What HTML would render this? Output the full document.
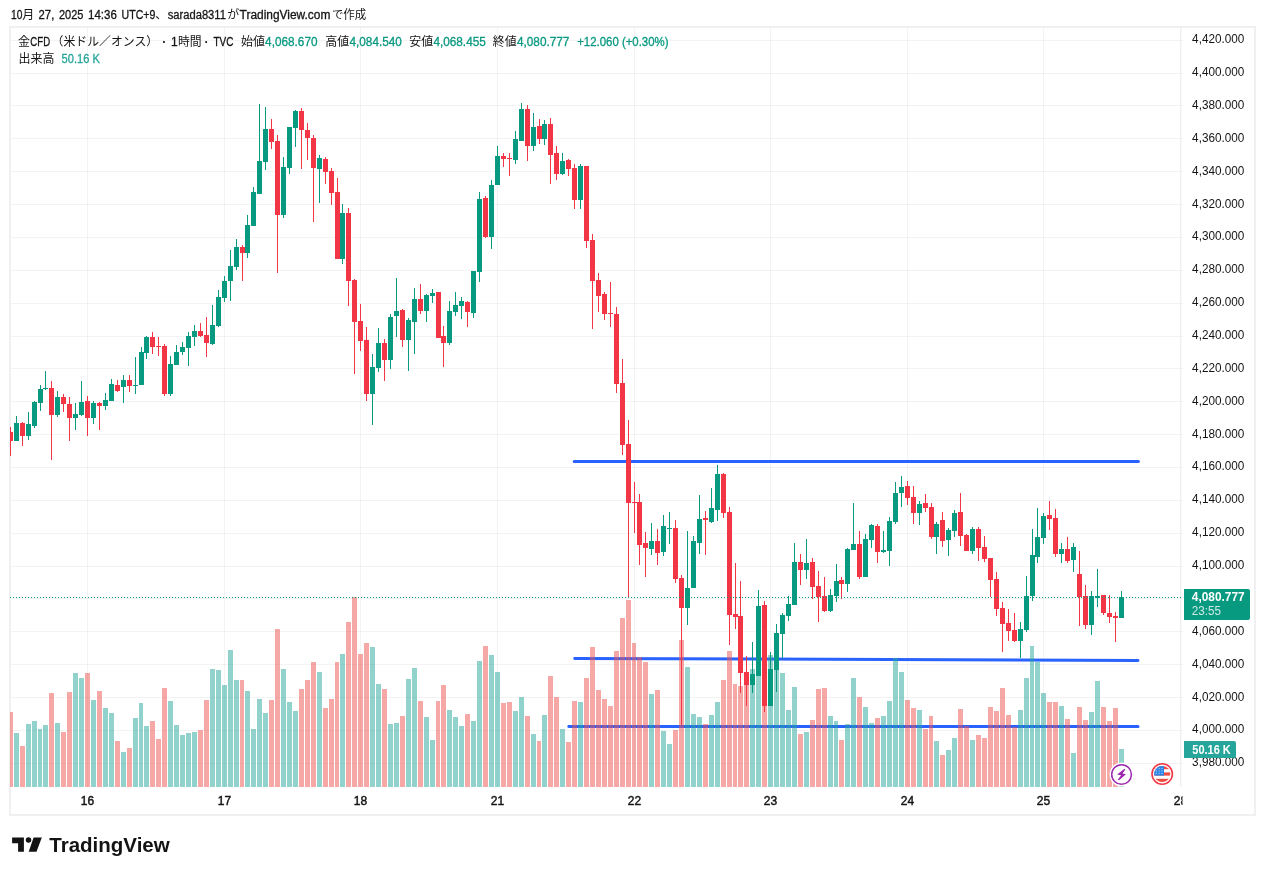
<!DOCTYPE html>
<html lang="ja"><head><meta charset="utf-8"><title>TradingView chart snapshot</title>
<style>html,body{margin:0;padding:0;background:#fff}body{width:1265px;height:875px;overflow:hidden;position:relative;font-family:"Liberation Sans","Noto Sans CJK JP",sans-serif}svg{position:absolute;left:0;top:0;display:block}text{font-family:"Liberation Sans","Noto Sans CJK JP",sans-serif;font-size:12px;fill:#151515}.w{stroke:#151515;stroke-width:.3px}.wt{stroke:#089981;stroke-width:.3px}.wv{stroke:#26a69a;stroke-width:.3px}.b{font-weight:bold}</style></head><body>
<svg width="1265" height="875" viewBox="0 0 1265 875">
<rect width="1265" height="875" fill="#fff"/>
<g id="frame" shape-rendering="crispEdges" fill="#f0f0f0">
<rect x="9" y="26" width="1247" height="2"/>
<rect x="9" y="814" width="1247" height="1.5"/>
<rect x="9" y="26" width="2" height="789"/>
<rect x="1254" y="26" width="2" height="789"/>
</g>
<g id="grid" shape-rendering="crispEdges" fill="#202020" fill-opacity=".055">
<rect x="11" y="40" width="1172" height="1"/>
<rect x="11" y="73" width="1172" height="1"/>
<rect x="11" y="105" width="1172" height="1"/>
<rect x="11" y="138" width="1172" height="1"/>
<rect x="11" y="171" width="1172" height="1"/>
<rect x="11" y="204" width="1172" height="1"/>
<rect x="11" y="237" width="1172" height="1"/>
<rect x="11" y="270" width="1172" height="1"/>
<rect x="11" y="303" width="1172" height="1"/>
<rect x="11" y="336" width="1172" height="1"/>
<rect x="11" y="368" width="1172" height="1"/>
<rect x="11" y="401" width="1172" height="1"/>
<rect x="11" y="434" width="1172" height="1"/>
<rect x="11" y="467" width="1172" height="1"/>
<rect x="11" y="500" width="1172" height="1"/>
<rect x="11" y="533" width="1172" height="1"/>
<rect x="11" y="566" width="1172" height="1"/>
<rect x="11" y="598" width="1172" height="1"/>
<rect x="11" y="631" width="1172" height="1"/>
<rect x="11" y="664" width="1172" height="1"/>
<rect x="11" y="697" width="1172" height="1"/>
<rect x="11" y="730" width="1172" height="1"/>
<rect x="11" y="763" width="1172" height="1"/>
<rect x="87" y="28" width="1" height="759"/>
<rect x="224" y="28" width="1" height="759"/>
<rect x="360" y="28" width="1" height="759"/>
<rect x="497" y="28" width="1" height="759"/>
<rect x="634" y="28" width="1" height="759"/>
<rect x="770" y="28" width="1" height="759"/>
<rect x="907" y="28" width="1" height="759"/>
<rect x="1043" y="28" width="1" height="759"/>
<rect x="1180.3" y="28" width="1" height="759" fill="#e9e9e9" fill-opacity="1" shape-rendering="auto"/>
</g>
<g id="lines" stroke="#2962ff" stroke-width="3" stroke-linecap="round" fill="none">
<line x1="574.2" y1="461.4" x2="1138.4" y2="461.4"/>
<line x1="574.7" y1="658.4" x2="1138.0" y2="660.5"/>
<line x1="568.8" y1="726.5" x2="1138.0" y2="726.6"/>
</g>
<g id="volume" shape-rendering="crispEdges" opacity=".5">
<rect x="10" y="712" width="3" height="75" fill="#ef5350"/>
<rect x="14" y="733" width="5" height="54" fill="#26a69a"/>
<rect x="20" y="746" width="5" height="41" fill="#ef5350"/>
<rect x="26" y="724" width="5" height="63" fill="#26a69a"/>
<rect x="32" y="721" width="5" height="66" fill="#26a69a"/>
<rect x="38" y="729" width="4" height="58" fill="#26a69a"/>
<rect x="43" y="725" width="5" height="62" fill="#26a69a"/>
<rect x="49" y="693" width="5" height="94" fill="#ef5350"/>
<rect x="55" y="723" width="5" height="64" fill="#26a69a"/>
<rect x="61" y="732" width="5" height="55" fill="#ef5350"/>
<rect x="67" y="692" width="5" height="95" fill="#ef5350"/>
<rect x="73" y="673" width="5" height="114" fill="#26a69a"/>
<rect x="79" y="678" width="5" height="109" fill="#26a69a"/>
<rect x="85" y="673" width="5" height="114" fill="#ef5350"/>
<rect x="91" y="700" width="5" height="87" fill="#26a69a"/>
<rect x="97" y="691" width="5" height="96" fill="#ef5350"/>
<rect x="103" y="708" width="5" height="79" fill="#26a69a"/>
<rect x="109" y="713" width="5" height="74" fill="#26a69a"/>
<rect x="115" y="741" width="5" height="46" fill="#ef5350"/>
<rect x="121" y="752" width="5" height="35" fill="#26a69a"/>
<rect x="127" y="748" width="5" height="39" fill="#ef5350"/>
<rect x="133" y="718" width="5" height="69" fill="#26a69a"/>
<rect x="139" y="703" width="4" height="84" fill="#26a69a"/>
<rect x="144" y="726" width="5" height="61" fill="#26a69a"/>
<rect x="150" y="721" width="5" height="66" fill="#ef5350"/>
<rect x="156" y="739" width="5" height="48" fill="#ef5350"/>
<rect x="162" y="688" width="5" height="99" fill="#ef5350"/>
<rect x="168" y="701" width="5" height="86" fill="#26a69a"/>
<rect x="174" y="725" width="5" height="62" fill="#26a69a"/>
<rect x="180" y="735" width="5" height="52" fill="#26a69a"/>
<rect x="186" y="733" width="5" height="54" fill="#26a69a"/>
<rect x="192" y="732" width="5" height="55" fill="#26a69a"/>
<rect x="198" y="730" width="5" height="57" fill="#ef5350"/>
<rect x="204" y="700" width="5" height="87" fill="#ef5350"/>
<rect x="210" y="669" width="5" height="118" fill="#26a69a"/>
<rect x="216" y="670" width="5" height="117" fill="#26a69a"/>
<rect x="222" y="685" width="5" height="102" fill="#26a69a"/>
<rect x="228" y="650" width="5" height="137" fill="#26a69a"/>
<rect x="234" y="680" width="5" height="107" fill="#26a69a"/>
<rect x="240" y="680" width="4" height="107" fill="#ef5350"/>
<rect x="245" y="691" width="5" height="96" fill="#26a69a"/>
<rect x="251" y="729" width="5" height="58" fill="#26a69a"/>
<rect x="257" y="699" width="5" height="88" fill="#26a69a"/>
<rect x="263" y="713" width="5" height="74" fill="#26a69a"/>
<rect x="269" y="700" width="5" height="87" fill="#ef5350"/>
<rect x="275" y="629" width="5" height="158" fill="#ef5350"/>
<rect x="281" y="669" width="5" height="118" fill="#26a69a"/>
<rect x="287" y="702" width="5" height="85" fill="#26a69a"/>
<rect x="293" y="711" width="5" height="76" fill="#26a69a"/>
<rect x="299" y="689" width="5" height="98" fill="#ef5350"/>
<rect x="305" y="680" width="5" height="107" fill="#ef5350"/>
<rect x="311" y="662" width="5" height="125" fill="#ef5350"/>
<rect x="317" y="672" width="5" height="115" fill="#26a69a"/>
<rect x="323" y="708" width="5" height="79" fill="#ef5350"/>
<rect x="329" y="699" width="5" height="88" fill="#ef5350"/>
<rect x="335" y="662" width="4" height="125" fill="#ef5350"/>
<rect x="340" y="654" width="5" height="133" fill="#26a69a"/>
<rect x="346" y="622" width="5" height="165" fill="#ef5350"/>
<rect x="352" y="597" width="5" height="190" fill="#ef5350"/>
<rect x="358" y="654" width="5" height="133" fill="#ef5350"/>
<rect x="364" y="643" width="5" height="144" fill="#ef5350"/>
<rect x="370" y="647" width="5" height="140" fill="#26a69a"/>
<rect x="376" y="684" width="5" height="103" fill="#26a69a"/>
<rect x="382" y="689" width="5" height="98" fill="#ef5350"/>
<rect x="388" y="724" width="5" height="63" fill="#26a69a"/>
<rect x="394" y="723" width="5" height="64" fill="#26a69a"/>
<rect x="400" y="716" width="5" height="71" fill="#ef5350"/>
<rect x="406" y="679" width="5" height="108" fill="#26a69a"/>
<rect x="412" y="668" width="5" height="119" fill="#26a69a"/>
<rect x="418" y="701" width="5" height="86" fill="#ef5350"/>
<rect x="424" y="717" width="5" height="70" fill="#26a69a"/>
<rect x="430" y="740" width="5" height="47" fill="#26a69a"/>
<rect x="436" y="701" width="4" height="86" fill="#ef5350"/>
<rect x="441" y="685" width="5" height="102" fill="#ef5350"/>
<rect x="447" y="710" width="5" height="77" fill="#26a69a"/>
<rect x="453" y="717" width="5" height="70" fill="#26a69a"/>
<rect x="459" y="726" width="5" height="61" fill="#26a69a"/>
<rect x="465" y="714" width="5" height="73" fill="#ef5350"/>
<rect x="471" y="721" width="5" height="66" fill="#26a69a"/>
<rect x="477" y="661" width="5" height="126" fill="#26a69a"/>
<rect x="483" y="646" width="5" height="141" fill="#ef5350"/>
<rect x="489" y="655" width="5" height="132" fill="#26a69a"/>
<rect x="495" y="672" width="5" height="115" fill="#26a69a"/>
<rect x="501" y="703" width="5" height="84" fill="#ef5350"/>
<rect x="507" y="702" width="5" height="85" fill="#ef5350"/>
<rect x="513" y="711" width="5" height="76" fill="#26a69a"/>
<rect x="519" y="697" width="5" height="90" fill="#26a69a"/>
<rect x="525" y="716" width="5" height="71" fill="#ef5350"/>
<rect x="531" y="734" width="5" height="53" fill="#26a69a"/>
<rect x="537" y="741" width="4" height="46" fill="#ef5350"/>
<rect x="542" y="715" width="5" height="72" fill="#26a69a"/>
<rect x="548" y="676" width="5" height="111" fill="#ef5350"/>
<rect x="554" y="697" width="5" height="90" fill="#ef5350"/>
<rect x="560" y="729" width="5" height="58" fill="#26a69a"/>
<rect x="566" y="742" width="5" height="45" fill="#ef5350"/>
<rect x="572" y="701" width="5" height="86" fill="#ef5350"/>
<rect x="578" y="702" width="5" height="85" fill="#26a69a"/>
<rect x="584" y="678" width="5" height="109" fill="#ef5350"/>
<rect x="590" y="647" width="5" height="140" fill="#ef5350"/>
<rect x="596" y="690" width="5" height="97" fill="#ef5350"/>
<rect x="602" y="699" width="5" height="88" fill="#ef5350"/>
<rect x="608" y="706" width="5" height="81" fill="#ef5350"/>
<rect x="614" y="651" width="5" height="136" fill="#ef5350"/>
<rect x="620" y="618" width="5" height="169" fill="#ef5350"/>
<rect x="626" y="600" width="5" height="187" fill="#ef5350"/>
<rect x="632" y="643" width="4" height="144" fill="#ef5350"/>
<rect x="637" y="657" width="5" height="130" fill="#ef5350"/>
<rect x="643" y="662" width="5" height="125" fill="#ef5350"/>
<rect x="649" y="694" width="5" height="93" fill="#26a69a"/>
<rect x="655" y="690" width="5" height="97" fill="#ef5350"/>
<rect x="661" y="731" width="5" height="56" fill="#26a69a"/>
<rect x="667" y="744" width="5" height="43" fill="#26a69a"/>
<rect x="673" y="730" width="5" height="57" fill="#ef5350"/>
<rect x="679" y="640" width="5" height="147" fill="#ef5350"/>
<rect x="685" y="667" width="5" height="120" fill="#26a69a"/>
<rect x="691" y="714" width="5" height="73" fill="#26a69a"/>
<rect x="697" y="717" width="5" height="70" fill="#26a69a"/>
<rect x="703" y="724" width="5" height="63" fill="#ef5350"/>
<rect x="709" y="715" width="5" height="72" fill="#26a69a"/>
<rect x="715" y="702" width="5" height="85" fill="#26a69a"/>
<rect x="721" y="680" width="5" height="107" fill="#ef5350"/>
<rect x="727" y="651" width="5" height="136" fill="#ef5350"/>
<rect x="733" y="684" width="4" height="103" fill="#ef5350"/>
<rect x="738" y="686" width="5" height="101" fill="#ef5350"/>
<rect x="744" y="685" width="5" height="102" fill="#ef5350"/>
<rect x="750" y="669" width="5" height="118" fill="#26a69a"/>
<rect x="756" y="668" width="5" height="119" fill="#26a69a"/>
<rect x="762" y="662" width="5" height="125" fill="#ef5350"/>
<rect x="768" y="655" width="5" height="132" fill="#26a69a"/>
<rect x="774" y="664" width="5" height="123" fill="#26a69a"/>
<rect x="780" y="673" width="5" height="114" fill="#26a69a"/>
<rect x="786" y="710" width="5" height="77" fill="#26a69a"/>
<rect x="792" y="687" width="5" height="100" fill="#26a69a"/>
<rect x="798" y="734" width="5" height="53" fill="#ef5350"/>
<rect x="804" y="732" width="5" height="55" fill="#26a69a"/>
<rect x="810" y="720" width="5" height="67" fill="#ef5350"/>
<rect x="816" y="689" width="5" height="98" fill="#ef5350"/>
<rect x="822" y="688" width="5" height="99" fill="#ef5350"/>
<rect x="828" y="716" width="5" height="71" fill="#26a69a"/>
<rect x="834" y="721" width="4" height="66" fill="#26a69a"/>
<rect x="839" y="740" width="5" height="47" fill="#ef5350"/>
<rect x="845" y="724" width="5" height="63" fill="#26a69a"/>
<rect x="851" y="678" width="5" height="109" fill="#26a69a"/>
<rect x="857" y="697" width="5" height="90" fill="#ef5350"/>
<rect x="863" y="707" width="5" height="80" fill="#26a69a"/>
<rect x="869" y="723" width="5" height="64" fill="#26a69a"/>
<rect x="875" y="718" width="5" height="69" fill="#ef5350"/>
<rect x="881" y="716" width="5" height="71" fill="#26a69a"/>
<rect x="887" y="701" width="5" height="86" fill="#26a69a"/>
<rect x="893" y="658" width="5" height="129" fill="#26a69a"/>
<rect x="899" y="672" width="5" height="115" fill="#26a69a"/>
<rect x="905" y="700" width="5" height="87" fill="#ef5350"/>
<rect x="911" y="708" width="5" height="79" fill="#ef5350"/>
<rect x="917" y="710" width="5" height="77" fill="#26a69a"/>
<rect x="923" y="729" width="5" height="58" fill="#ef5350"/>
<rect x="929" y="716" width="4" height="71" fill="#ef5350"/>
<rect x="934" y="741" width="5" height="46" fill="#26a69a"/>
<rect x="940" y="755" width="5" height="32" fill="#ef5350"/>
<rect x="946" y="750" width="5" height="37" fill="#26a69a"/>
<rect x="952" y="738" width="5" height="49" fill="#26a69a"/>
<rect x="958" y="709" width="5" height="78" fill="#ef5350"/>
<rect x="964" y="726" width="5" height="61" fill="#ef5350"/>
<rect x="970" y="740" width="5" height="47" fill="#26a69a"/>
<rect x="976" y="735" width="5" height="52" fill="#ef5350"/>
<rect x="982" y="738" width="5" height="49" fill="#ef5350"/>
<rect x="988" y="707" width="5" height="80" fill="#ef5350"/>
<rect x="994" y="711" width="5" height="76" fill="#ef5350"/>
<rect x="1000" y="688" width="5" height="99" fill="#ef5350"/>
<rect x="1006" y="715" width="5" height="72" fill="#ef5350"/>
<rect x="1012" y="727" width="5" height="60" fill="#ef5350"/>
<rect x="1018" y="710" width="5" height="77" fill="#26a69a"/>
<rect x="1024" y="678" width="5" height="109" fill="#26a69a"/>
<rect x="1030" y="646" width="4" height="141" fill="#26a69a"/>
<rect x="1035" y="662" width="5" height="125" fill="#26a69a"/>
<rect x="1041" y="693" width="5" height="94" fill="#26a69a"/>
<rect x="1047" y="702" width="5" height="85" fill="#ef5350"/>
<rect x="1053" y="702" width="5" height="85" fill="#ef5350"/>
<rect x="1059" y="706" width="5" height="81" fill="#26a69a"/>
<rect x="1065" y="719" width="5" height="68" fill="#ef5350"/>
<rect x="1071" y="753" width="5" height="34" fill="#26a69a"/>
<rect x="1077" y="707" width="5" height="80" fill="#ef5350"/>
<rect x="1083" y="720" width="5" height="67" fill="#ef5350"/>
<rect x="1089" y="712" width="5" height="75" fill="#26a69a"/>
<rect x="1095" y="681" width="5" height="106" fill="#26a69a"/>
<rect x="1101" y="707" width="5" height="80" fill="#ef5350"/>
<rect x="1107" y="721" width="5" height="66" fill="#ef5350"/>
<rect x="1113" y="708" width="5" height="79" fill="#ef5350"/>
<rect x="1119" y="749" width="5" height="38" fill="#26a69a"/>
</g>
<g id="candles" shape-rendering="crispEdges">
<rect x="10" y="427" width="1" height="29" fill="#f23645"/>
<rect x="10" y="432" width="3" height="9" fill="#f23645"/>
<rect x="16" y="416" width="1" height="25" fill="#089981"/>
<rect x="14" y="423" width="5" height="18" fill="#089981"/>
<rect x="22" y="422" width="1" height="24" fill="#f23645"/>
<rect x="20" y="423" width="5" height="13" fill="#f23645"/>
<rect x="28" y="412" width="1" height="28" fill="#089981"/>
<rect x="26" y="424" width="5" height="12" fill="#089981"/>
<rect x="34" y="401" width="1" height="27" fill="#089981"/>
<rect x="32" y="402" width="5" height="24" fill="#089981"/>
<rect x="40" y="385" width="1" height="26" fill="#089981"/>
<rect x="38" y="389" width="5" height="14" fill="#089981"/>
<rect x="45" y="371" width="1" height="19" fill="#089981"/>
<rect x="43" y="388" width="5" height="1" fill="#089981"/>
<rect x="51" y="381" width="1" height="79" fill="#f23645"/>
<rect x="49" y="388" width="5" height="27" fill="#f23645"/>
<rect x="57" y="391" width="1" height="26" fill="#089981"/>
<rect x="55" y="397" width="5" height="18" fill="#089981"/>
<rect x="63" y="394" width="1" height="18" fill="#f23645"/>
<rect x="61" y="397" width="5" height="7" fill="#f23645"/>
<rect x="69" y="397" width="1" height="44" fill="#f23645"/>
<rect x="67" y="404" width="5" height="14" fill="#f23645"/>
<rect x="75" y="403" width="1" height="27" fill="#089981"/>
<rect x="73" y="414" width="5" height="4" fill="#089981"/>
<rect x="81" y="381" width="1" height="35" fill="#089981"/>
<rect x="79" y="402" width="5" height="13" fill="#089981"/>
<rect x="87" y="396" width="1" height="40" fill="#f23645"/>
<rect x="85" y="401" width="5" height="17" fill="#f23645"/>
<rect x="93" y="401" width="1" height="23" fill="#089981"/>
<rect x="91" y="403" width="5" height="15" fill="#089981"/>
<rect x="99" y="402" width="1" height="28" fill="#f23645"/>
<rect x="97" y="403" width="5" height="3" fill="#f23645"/>
<rect x="105" y="393" width="1" height="17" fill="#089981"/>
<rect x="103" y="400" width="5" height="6" fill="#089981"/>
<rect x="111" y="379" width="1" height="22" fill="#089981"/>
<rect x="109" y="384" width="5" height="17" fill="#089981"/>
<rect x="117" y="380" width="1" height="12" fill="#f23645"/>
<rect x="115" y="385" width="5" height="6" fill="#f23645"/>
<rect x="123" y="375" width="1" height="28" fill="#089981"/>
<rect x="121" y="380" width="5" height="7" fill="#089981"/>
<rect x="129" y="375" width="1" height="17" fill="#f23645"/>
<rect x="127" y="380" width="5" height="6" fill="#f23645"/>
<rect x="135" y="357" width="1" height="37" fill="#089981"/>
<rect x="133" y="385" width="5" height="1" fill="#089981"/>
<rect x="141" y="347" width="1" height="38" fill="#089981"/>
<rect x="139" y="352" width="5" height="33" fill="#089981"/>
<rect x="146" y="336" width="1" height="23" fill="#089981"/>
<rect x="144" y="337" width="5" height="16" fill="#089981"/>
<rect x="152" y="332" width="1" height="22" fill="#f23645"/>
<rect x="150" y="337" width="5" height="10" fill="#f23645"/>
<rect x="158" y="337" width="1" height="19" fill="#f23645"/>
<rect x="156" y="346" width="5" height="1" fill="#f23645"/>
<rect x="164" y="344" width="1" height="52" fill="#f23645"/>
<rect x="162" y="346" width="5" height="48" fill="#f23645"/>
<rect x="170" y="356" width="1" height="40" fill="#089981"/>
<rect x="168" y="364" width="5" height="30" fill="#089981"/>
<rect x="176" y="345" width="1" height="20" fill="#089981"/>
<rect x="174" y="352" width="5" height="13" fill="#089981"/>
<rect x="182" y="342" width="1" height="13" fill="#089981"/>
<rect x="180" y="347" width="5" height="5" fill="#089981"/>
<rect x="188" y="332" width="1" height="34" fill="#089981"/>
<rect x="186" y="336" width="5" height="12" fill="#089981"/>
<rect x="194" y="325" width="1" height="21" fill="#089981"/>
<rect x="192" y="331" width="5" height="6" fill="#089981"/>
<rect x="200" y="323" width="1" height="14" fill="#f23645"/>
<rect x="198" y="331" width="5" height="5" fill="#f23645"/>
<rect x="206" y="317" width="1" height="40" fill="#f23645"/>
<rect x="204" y="335" width="5" height="8" fill="#f23645"/>
<rect x="212" y="305" width="1" height="40" fill="#089981"/>
<rect x="210" y="325" width="5" height="19" fill="#089981"/>
<rect x="218" y="290" width="1" height="37" fill="#089981"/>
<rect x="216" y="297" width="5" height="29" fill="#089981"/>
<rect x="224" y="276" width="1" height="26" fill="#089981"/>
<rect x="222" y="281" width="5" height="17" fill="#089981"/>
<rect x="230" y="250" width="1" height="51" fill="#089981"/>
<rect x="228" y="266" width="5" height="15" fill="#089981"/>
<rect x="236" y="239" width="1" height="31" fill="#089981"/>
<rect x="234" y="247" width="5" height="20" fill="#089981"/>
<rect x="242" y="245" width="1" height="36" fill="#f23645"/>
<rect x="240" y="247" width="5" height="6" fill="#f23645"/>
<rect x="247" y="215" width="1" height="43" fill="#089981"/>
<rect x="245" y="225" width="5" height="28" fill="#089981"/>
<rect x="253" y="187" width="1" height="39" fill="#089981"/>
<rect x="251" y="192" width="5" height="34" fill="#089981"/>
<rect x="259" y="104" width="1" height="90" fill="#089981"/>
<rect x="257" y="161" width="5" height="33" fill="#089981"/>
<rect x="265" y="107" width="1" height="63" fill="#089981"/>
<rect x="263" y="129" width="5" height="33" fill="#089981"/>
<rect x="271" y="119" width="1" height="30" fill="#f23645"/>
<rect x="269" y="129" width="5" height="13" fill="#f23645"/>
<rect x="277" y="135" width="1" height="138" fill="#f23645"/>
<rect x="275" y="141" width="5" height="74" fill="#f23645"/>
<rect x="283" y="157" width="1" height="61" fill="#089981"/>
<rect x="281" y="167" width="5" height="48" fill="#089981"/>
<rect x="289" y="127" width="1" height="47" fill="#089981"/>
<rect x="287" y="127" width="5" height="41" fill="#089981"/>
<rect x="295" y="110" width="1" height="37" fill="#089981"/>
<rect x="293" y="111" width="5" height="17" fill="#089981"/>
<rect x="301" y="108" width="1" height="61" fill="#f23645"/>
<rect x="299" y="111" width="5" height="19" fill="#f23645"/>
<rect x="307" y="123" width="1" height="37" fill="#f23645"/>
<rect x="305" y="130" width="5" height="8" fill="#f23645"/>
<rect x="313" y="135" width="1" height="87" fill="#f23645"/>
<rect x="311" y="138" width="5" height="30" fill="#f23645"/>
<rect x="319" y="155" width="1" height="48" fill="#089981"/>
<rect x="317" y="158" width="5" height="11" fill="#089981"/>
<rect x="325" y="157" width="1" height="27" fill="#f23645"/>
<rect x="323" y="159" width="5" height="13" fill="#f23645"/>
<rect x="331" y="168" width="1" height="37" fill="#f23645"/>
<rect x="329" y="171" width="5" height="22" fill="#f23645"/>
<rect x="337" y="178" width="1" height="81" fill="#f23645"/>
<rect x="335" y="192" width="5" height="67" fill="#f23645"/>
<rect x="342" y="204" width="1" height="60" fill="#089981"/>
<rect x="340" y="213" width="5" height="46" fill="#089981"/>
<rect x="348" y="208" width="1" height="98" fill="#f23645"/>
<rect x="346" y="213" width="5" height="68" fill="#f23645"/>
<rect x="354" y="279" width="1" height="95" fill="#f23645"/>
<rect x="352" y="280" width="5" height="42" fill="#f23645"/>
<rect x="360" y="304" width="1" height="47" fill="#f23645"/>
<rect x="358" y="321" width="5" height="20" fill="#f23645"/>
<rect x="366" y="327" width="1" height="74" fill="#f23645"/>
<rect x="364" y="340" width="5" height="54" fill="#f23645"/>
<rect x="372" y="354" width="1" height="71" fill="#089981"/>
<rect x="370" y="367" width="5" height="27" fill="#089981"/>
<rect x="378" y="328" width="1" height="44" fill="#089981"/>
<rect x="376" y="343" width="5" height="25" fill="#089981"/>
<rect x="384" y="339" width="1" height="42" fill="#f23645"/>
<rect x="382" y="343" width="5" height="17" fill="#f23645"/>
<rect x="390" y="314" width="1" height="55" fill="#089981"/>
<rect x="388" y="317" width="5" height="43" fill="#089981"/>
<rect x="396" y="278" width="1" height="59" fill="#089981"/>
<rect x="394" y="311" width="5" height="5" fill="#089981"/>
<rect x="402" y="309" width="1" height="38" fill="#f23645"/>
<rect x="400" y="310" width="5" height="30" fill="#f23645"/>
<rect x="408" y="318" width="1" height="53" fill="#089981"/>
<rect x="406" y="320" width="5" height="20" fill="#089981"/>
<rect x="414" y="288" width="1" height="66" fill="#089981"/>
<rect x="412" y="299" width="5" height="23" fill="#089981"/>
<rect x="420" y="284" width="1" height="30" fill="#f23645"/>
<rect x="418" y="299" width="5" height="12" fill="#f23645"/>
<rect x="426" y="294" width="1" height="28" fill="#089981"/>
<rect x="424" y="295" width="5" height="16" fill="#089981"/>
<rect x="432" y="289" width="1" height="14" fill="#089981"/>
<rect x="430" y="293" width="5" height="3" fill="#089981"/>
<rect x="438" y="292" width="1" height="46" fill="#f23645"/>
<rect x="436" y="292" width="5" height="46" fill="#f23645"/>
<rect x="443" y="326" width="1" height="41" fill="#f23645"/>
<rect x="441" y="336" width="5" height="7" fill="#f23645"/>
<rect x="449" y="301" width="1" height="44" fill="#089981"/>
<rect x="447" y="311" width="5" height="32" fill="#089981"/>
<rect x="455" y="292" width="1" height="24" fill="#089981"/>
<rect x="453" y="305" width="5" height="7" fill="#089981"/>
<rect x="461" y="297" width="1" height="22" fill="#089981"/>
<rect x="459" y="301" width="5" height="5" fill="#089981"/>
<rect x="467" y="301" width="1" height="26" fill="#f23645"/>
<rect x="465" y="302" width="5" height="10" fill="#f23645"/>
<rect x="473" y="271" width="1" height="47" fill="#089981"/>
<rect x="471" y="271" width="5" height="42" fill="#089981"/>
<rect x="479" y="192" width="1" height="90" fill="#089981"/>
<rect x="477" y="199" width="5" height="73" fill="#089981"/>
<rect x="485" y="196" width="1" height="42" fill="#f23645"/>
<rect x="483" y="198" width="5" height="39" fill="#f23645"/>
<rect x="491" y="180" width="1" height="69" fill="#089981"/>
<rect x="489" y="185" width="5" height="52" fill="#089981"/>
<rect x="497" y="146" width="1" height="39" fill="#089981"/>
<rect x="495" y="156" width="5" height="29" fill="#089981"/>
<rect x="503" y="153" width="1" height="14" fill="#f23645"/>
<rect x="501" y="156" width="5" height="3" fill="#f23645"/>
<rect x="509" y="153" width="1" height="23" fill="#f23645"/>
<rect x="507" y="158" width="5" height="1" fill="#f23645"/>
<rect x="515" y="131" width="1" height="33" fill="#089981"/>
<rect x="513" y="139" width="5" height="21" fill="#089981"/>
<rect x="521" y="103" width="1" height="38" fill="#089981"/>
<rect x="519" y="109" width="5" height="32" fill="#089981"/>
<rect x="527" y="105" width="1" height="56" fill="#f23645"/>
<rect x="525" y="109" width="5" height="37" fill="#f23645"/>
<rect x="533" y="113" width="1" height="38" fill="#089981"/>
<rect x="531" y="127" width="5" height="19" fill="#089981"/>
<rect x="539" y="119" width="1" height="25" fill="#f23645"/>
<rect x="537" y="126" width="5" height="13" fill="#f23645"/>
<rect x="544" y="120" width="1" height="25" fill="#089981"/>
<rect x="542" y="124" width="5" height="15" fill="#089981"/>
<rect x="550" y="118" width="1" height="66" fill="#f23645"/>
<rect x="548" y="124" width="5" height="31" fill="#f23645"/>
<rect x="556" y="146" width="1" height="34" fill="#f23645"/>
<rect x="554" y="153" width="5" height="21" fill="#f23645"/>
<rect x="562" y="153" width="1" height="22" fill="#089981"/>
<rect x="560" y="161" width="5" height="13" fill="#089981"/>
<rect x="568" y="159" width="1" height="17" fill="#f23645"/>
<rect x="566" y="160" width="5" height="9" fill="#f23645"/>
<rect x="574" y="164" width="1" height="45" fill="#f23645"/>
<rect x="572" y="168" width="5" height="32" fill="#f23645"/>
<rect x="580" y="164" width="1" height="45" fill="#089981"/>
<rect x="578" y="166" width="5" height="34" fill="#089981"/>
<rect x="586" y="166" width="1" height="82" fill="#f23645"/>
<rect x="584" y="166" width="5" height="75" fill="#f23645"/>
<rect x="592" y="234" width="1" height="95" fill="#f23645"/>
<rect x="590" y="240" width="5" height="41" fill="#f23645"/>
<rect x="598" y="273" width="1" height="39" fill="#f23645"/>
<rect x="596" y="280" width="5" height="16" fill="#f23645"/>
<rect x="604" y="292" width="1" height="28" fill="#f23645"/>
<rect x="602" y="294" width="5" height="20" fill="#f23645"/>
<rect x="610" y="282" width="1" height="45" fill="#f23645"/>
<rect x="608" y="313" width="5" height="1" fill="#f23645"/>
<rect x="616" y="307" width="1" height="86" fill="#f23645"/>
<rect x="614" y="314" width="5" height="70" fill="#f23645"/>
<rect x="622" y="359" width="1" height="96" fill="#f23645"/>
<rect x="620" y="383" width="5" height="62" fill="#f23645"/>
<rect x="628" y="420" width="1" height="178" fill="#f23645"/>
<rect x="626" y="444" width="5" height="59" fill="#f23645"/>
<rect x="634" y="482" width="1" height="51" fill="#f23645"/>
<rect x="632" y="502" width="5" height="1" fill="#f23645"/>
<rect x="639" y="494" width="1" height="71" fill="#f23645"/>
<rect x="637" y="502" width="5" height="43" fill="#f23645"/>
<rect x="645" y="532" width="1" height="45" fill="#f23645"/>
<rect x="643" y="543" width="5" height="5" fill="#f23645"/>
<rect x="651" y="523" width="1" height="32" fill="#089981"/>
<rect x="649" y="541" width="5" height="8" fill="#089981"/>
<rect x="657" y="529" width="1" height="36" fill="#f23645"/>
<rect x="655" y="541" width="5" height="12" fill="#f23645"/>
<rect x="663" y="515" width="1" height="41" fill="#089981"/>
<rect x="661" y="526" width="5" height="26" fill="#089981"/>
<rect x="669" y="512" width="1" height="32" fill="#089981"/>
<rect x="667" y="528" width="5" height="1" fill="#089981"/>
<rect x="675" y="520" width="1" height="63" fill="#f23645"/>
<rect x="673" y="528" width="5" height="51" fill="#f23645"/>
<rect x="681" y="575" width="1" height="150" fill="#f23645"/>
<rect x="679" y="578" width="5" height="30" fill="#f23645"/>
<rect x="687" y="531" width="1" height="94" fill="#089981"/>
<rect x="685" y="588" width="5" height="20" fill="#089981"/>
<rect x="693" y="536" width="1" height="52" fill="#089981"/>
<rect x="691" y="541" width="5" height="47" fill="#089981"/>
<rect x="699" y="495" width="1" height="59" fill="#089981"/>
<rect x="697" y="519" width="5" height="24" fill="#089981"/>
<rect x="705" y="511" width="1" height="44" fill="#f23645"/>
<rect x="703" y="518" width="5" height="2" fill="#f23645"/>
<rect x="711" y="488" width="1" height="35" fill="#089981"/>
<rect x="709" y="508" width="5" height="14" fill="#089981"/>
<rect x="717" y="465" width="1" height="56" fill="#089981"/>
<rect x="715" y="474" width="5" height="36" fill="#089981"/>
<rect x="723" y="473" width="1" height="45" fill="#f23645"/>
<rect x="721" y="474" width="5" height="39" fill="#f23645"/>
<rect x="729" y="507" width="1" height="138" fill="#f23645"/>
<rect x="727" y="512" width="5" height="103" fill="#f23645"/>
<rect x="735" y="563" width="1" height="66" fill="#f23645"/>
<rect x="733" y="614" width="5" height="3" fill="#f23645"/>
<rect x="740" y="581" width="1" height="112" fill="#f23645"/>
<rect x="738" y="616" width="5" height="57" fill="#f23645"/>
<rect x="746" y="656" width="1" height="50" fill="#f23645"/>
<rect x="744" y="672" width="5" height="13" fill="#f23645"/>
<rect x="752" y="642" width="1" height="51" fill="#089981"/>
<rect x="750" y="674" width="5" height="11" fill="#089981"/>
<rect x="758" y="590" width="1" height="86" fill="#089981"/>
<rect x="756" y="606" width="5" height="70" fill="#089981"/>
<rect x="764" y="601" width="1" height="111" fill="#f23645"/>
<rect x="762" y="605" width="5" height="101" fill="#f23645"/>
<rect x="770" y="652" width="1" height="54" fill="#089981"/>
<rect x="768" y="669" width="5" height="37" fill="#089981"/>
<rect x="776" y="624" width="1" height="68" fill="#089981"/>
<rect x="774" y="633" width="5" height="37" fill="#089981"/>
<rect x="782" y="613" width="1" height="45" fill="#089981"/>
<rect x="780" y="615" width="5" height="19" fill="#089981"/>
<rect x="788" y="596" width="1" height="25" fill="#089981"/>
<rect x="786" y="604" width="5" height="12" fill="#089981"/>
<rect x="794" y="543" width="1" height="62" fill="#089981"/>
<rect x="792" y="562" width="5" height="43" fill="#089981"/>
<rect x="800" y="554" width="1" height="31" fill="#f23645"/>
<rect x="798" y="562" width="5" height="8" fill="#f23645"/>
<rect x="806" y="539" width="1" height="40" fill="#089981"/>
<rect x="804" y="563" width="5" height="7" fill="#089981"/>
<rect x="812" y="558" width="1" height="41" fill="#f23645"/>
<rect x="810" y="562" width="5" height="25" fill="#f23645"/>
<rect x="818" y="571" width="1" height="51" fill="#f23645"/>
<rect x="816" y="586" width="5" height="11" fill="#f23645"/>
<rect x="824" y="577" width="1" height="35" fill="#f23645"/>
<rect x="822" y="596" width="5" height="15" fill="#f23645"/>
<rect x="830" y="589" width="1" height="23" fill="#089981"/>
<rect x="828" y="595" width="5" height="16" fill="#089981"/>
<rect x="836" y="564" width="1" height="38" fill="#089981"/>
<rect x="834" y="581" width="5" height="15" fill="#089981"/>
<rect x="841" y="577" width="1" height="22" fill="#f23645"/>
<rect x="839" y="580" width="5" height="4" fill="#f23645"/>
<rect x="847" y="548" width="1" height="44" fill="#089981"/>
<rect x="845" y="549" width="5" height="35" fill="#089981"/>
<rect x="853" y="503" width="1" height="47" fill="#089981"/>
<rect x="851" y="544" width="5" height="6" fill="#089981"/>
<rect x="859" y="531" width="1" height="48" fill="#f23645"/>
<rect x="857" y="544" width="5" height="33" fill="#f23645"/>
<rect x="865" y="534" width="1" height="43" fill="#089981"/>
<rect x="863" y="539" width="5" height="38" fill="#089981"/>
<rect x="871" y="524" width="1" height="24" fill="#089981"/>
<rect x="869" y="525" width="5" height="15" fill="#089981"/>
<rect x="877" y="524" width="1" height="39" fill="#f23645"/>
<rect x="875" y="526" width="5" height="26" fill="#f23645"/>
<rect x="883" y="531" width="1" height="22" fill="#089981"/>
<rect x="881" y="550" width="5" height="2" fill="#089981"/>
<rect x="889" y="517" width="1" height="49" fill="#089981"/>
<rect x="887" y="521" width="5" height="30" fill="#089981"/>
<rect x="895" y="482" width="1" height="42" fill="#089981"/>
<rect x="893" y="493" width="5" height="29" fill="#089981"/>
<rect x="901" y="476" width="1" height="31" fill="#089981"/>
<rect x="899" y="487" width="5" height="6" fill="#089981"/>
<rect x="907" y="481" width="1" height="24" fill="#f23645"/>
<rect x="905" y="486" width="5" height="12" fill="#f23645"/>
<rect x="913" y="486" width="1" height="38" fill="#f23645"/>
<rect x="911" y="497" width="5" height="16" fill="#f23645"/>
<rect x="919" y="501" width="1" height="24" fill="#089981"/>
<rect x="917" y="504" width="5" height="9" fill="#089981"/>
<rect x="925" y="494" width="1" height="18" fill="#f23645"/>
<rect x="923" y="503" width="5" height="5" fill="#f23645"/>
<rect x="931" y="503" width="1" height="36" fill="#f23645"/>
<rect x="929" y="507" width="5" height="30" fill="#f23645"/>
<rect x="936" y="522" width="1" height="32" fill="#089981"/>
<rect x="934" y="524" width="5" height="13" fill="#089981"/>
<rect x="942" y="512" width="1" height="35" fill="#f23645"/>
<rect x="940" y="520" width="5" height="21" fill="#f23645"/>
<rect x="948" y="528" width="1" height="28" fill="#089981"/>
<rect x="946" y="530" width="5" height="10" fill="#089981"/>
<rect x="954" y="510" width="1" height="27" fill="#089981"/>
<rect x="952" y="513" width="5" height="18" fill="#089981"/>
<rect x="960" y="493" width="1" height="53" fill="#f23645"/>
<rect x="958" y="512" width="5" height="24" fill="#f23645"/>
<rect x="966" y="534" width="1" height="17" fill="#f23645"/>
<rect x="964" y="535" width="5" height="16" fill="#f23645"/>
<rect x="972" y="527" width="1" height="27" fill="#089981"/>
<rect x="970" y="529" width="5" height="22" fill="#089981"/>
<rect x="978" y="527" width="1" height="34" fill="#f23645"/>
<rect x="976" y="529" width="5" height="19" fill="#f23645"/>
<rect x="984" y="536" width="1" height="26" fill="#f23645"/>
<rect x="982" y="547" width="5" height="12" fill="#f23645"/>
<rect x="990" y="558" width="1" height="39" fill="#f23645"/>
<rect x="988" y="558" width="5" height="22" fill="#f23645"/>
<rect x="996" y="572" width="1" height="44" fill="#f23645"/>
<rect x="994" y="579" width="5" height="30" fill="#f23645"/>
<rect x="1002" y="602" width="1" height="50" fill="#f23645"/>
<rect x="1000" y="608" width="5" height="16" fill="#f23645"/>
<rect x="1008" y="609" width="1" height="32" fill="#f23645"/>
<rect x="1006" y="623" width="5" height="8" fill="#f23645"/>
<rect x="1014" y="613" width="1" height="29" fill="#f23645"/>
<rect x="1012" y="630" width="5" height="11" fill="#f23645"/>
<rect x="1020" y="622" width="1" height="36" fill="#089981"/>
<rect x="1018" y="629" width="5" height="12" fill="#089981"/>
<rect x="1026" y="576" width="1" height="56" fill="#089981"/>
<rect x="1024" y="596" width="5" height="34" fill="#089981"/>
<rect x="1032" y="529" width="1" height="72" fill="#089981"/>
<rect x="1030" y="555" width="5" height="41" fill="#089981"/>
<rect x="1037" y="508" width="1" height="55" fill="#089981"/>
<rect x="1035" y="537" width="5" height="20" fill="#089981"/>
<rect x="1043" y="513" width="1" height="31" fill="#089981"/>
<rect x="1041" y="516" width="5" height="22" fill="#089981"/>
<rect x="1049" y="501" width="1" height="29" fill="#f23645"/>
<rect x="1047" y="515" width="5" height="4" fill="#f23645"/>
<rect x="1055" y="509" width="1" height="48" fill="#f23645"/>
<rect x="1053" y="518" width="5" height="36" fill="#f23645"/>
<rect x="1061" y="543" width="1" height="20" fill="#089981"/>
<rect x="1059" y="549" width="5" height="5" fill="#089981"/>
<rect x="1067" y="537" width="1" height="26" fill="#f23645"/>
<rect x="1065" y="549" width="5" height="12" fill="#f23645"/>
<rect x="1073" y="543" width="1" height="29" fill="#089981"/>
<rect x="1071" y="547" width="5" height="13" fill="#089981"/>
<rect x="1079" y="551" width="1" height="75" fill="#f23645"/>
<rect x="1077" y="574" width="5" height="23" fill="#f23645"/>
<rect x="1085" y="585" width="1" height="44" fill="#f23645"/>
<rect x="1083" y="596" width="5" height="29" fill="#f23645"/>
<rect x="1091" y="591" width="1" height="44" fill="#089981"/>
<rect x="1089" y="596" width="5" height="29" fill="#089981"/>
<rect x="1097" y="569" width="1" height="38" fill="#089981"/>
<rect x="1095" y="596" width="5" height="2" fill="#089981"/>
<rect x="1103" y="595" width="1" height="20" fill="#f23645"/>
<rect x="1101" y="595" width="5" height="18" fill="#f23645"/>
<rect x="1109" y="595" width="1" height="28" fill="#f23645"/>
<rect x="1107" y="613" width="5" height="4" fill="#f23645"/>
<rect x="1115" y="612" width="1" height="30" fill="#f23645"/>
<rect x="1113" y="616" width="5" height="2" fill="#f23645"/>
<rect x="1121" y="591" width="1" height="27" fill="#089981"/>
<rect x="1119" y="597" width="5" height="21" fill="#089981"/>
</g>
<line x1="10" y1="597.5" x2="1181" y2="597.5" stroke="#089981" stroke-width="1" stroke-dasharray="1 2" shape-rendering="crispEdges"/>
<g id="icon-flash"><circle cx="1121.55" cy="774.5" r="12" fill="#fff"/><circle cx="1121.55" cy="774.5" r="9.85" fill="#fff" stroke="#9c27b0" stroke-width="1.5"/><path d="M1124.5 768.8 L1117.1 774.45 L1121.1 775.2 L1117.8 779.7 L1119.1 780.2 L1125.9 774.3 L1122.5 773.6 L1125.3 769.4 Z" fill="#9c27b0"/></g>
<g id="icon-flag"><circle cx="1162.2" cy="774.0" r="11.6" fill="#fff"/><circle cx="1162.2" cy="774.0" r="10.2" fill="#fff" stroke="#f23645" stroke-width="1.6"/>
<clipPath id="fc"><circle cx="1162.2" cy="774.0" r="8.1"/></clipPath><g clip-path="url(#fc)">
<rect x="1153.7" y="765.5" width="17" height="17" fill="#fff"/>
<rect x="1153.7" y="766.00" width="17" height="3.2" fill="#ef4b40"/>
<rect x="1153.7" y="772.40" width="17" height="3.2" fill="#ef4b40"/>
<rect x="1153.7" y="778.80" width="17" height="3.2" fill="#ef4b40"/>
<rect x="1153.7" y="765.9" width="10.3" height="9.7" fill="#2d84e6"/>
<rect x="1155.80" y="768.10" width="1" height="1" fill="#fff" opacity=".75"/>
<rect x="1158.60" y="768.10" width="1" height="1" fill="#fff" opacity=".75"/>
<rect x="1161.40" y="768.10" width="1" height="1" fill="#fff" opacity=".75"/>
<rect x="1155.80" y="770.50" width="1" height="1" fill="#fff" opacity=".75"/>
<rect x="1158.60" y="770.50" width="1" height="1" fill="#fff" opacity=".75"/>
<rect x="1161.40" y="770.50" width="1" height="1" fill="#fff" opacity=".75"/>
<rect x="1155.80" y="772.90" width="1" height="1" fill="#fff" opacity=".75"/>
<rect x="1158.60" y="772.90" width="1" height="1" fill="#fff" opacity=".75"/>
<rect x="1161.40" y="772.90" width="1" height="1" fill="#fff" opacity=".75"/>
</g></g>
<g id="paxis">
<text x="1192.1" y="42.90" textLength="52.3" lengthAdjust="spacingAndGlyphs">4,420.000</text>
<text x="1192.1" y="75.90" textLength="52.3" lengthAdjust="spacingAndGlyphs">4,400.000</text>
<text x="1192.1" y="108.90" textLength="52.3" lengthAdjust="spacingAndGlyphs">4,380.000</text>
<text x="1192.1" y="141.90" textLength="52.3" lengthAdjust="spacingAndGlyphs">4,360.000</text>
<text x="1192.1" y="174.90" textLength="52.3" lengthAdjust="spacingAndGlyphs">4,340.000</text>
<text x="1192.1" y="207.90" textLength="52.3" lengthAdjust="spacingAndGlyphs">4,320.000</text>
<text x="1192.1" y="239.90" textLength="52.3" lengthAdjust="spacingAndGlyphs">4,300.000</text>
<text x="1192.1" y="272.90" textLength="52.3" lengthAdjust="spacingAndGlyphs">4,280.000</text>
<text x="1192.1" y="305.90" textLength="52.3" lengthAdjust="spacingAndGlyphs">4,260.000</text>
<text x="1192.1" y="338.90" textLength="52.3" lengthAdjust="spacingAndGlyphs">4,240.000</text>
<text x="1192.1" y="371.90" textLength="52.3" lengthAdjust="spacingAndGlyphs">4,220.000</text>
<text x="1192.1" y="404.90" textLength="52.3" lengthAdjust="spacingAndGlyphs">4,200.000</text>
<text x="1192.1" y="437.90" textLength="52.3" lengthAdjust="spacingAndGlyphs">4,180.000</text>
<text x="1192.1" y="469.90" textLength="52.3" lengthAdjust="spacingAndGlyphs">4,160.000</text>
<text x="1192.1" y="502.90" textLength="52.3" lengthAdjust="spacingAndGlyphs">4,140.000</text>
<text x="1192.1" y="535.90" textLength="52.3" lengthAdjust="spacingAndGlyphs">4,120.000</text>
<text x="1192.1" y="568.90" textLength="52.3" lengthAdjust="spacingAndGlyphs">4,100.000</text>
<text x="1192.1" y="601.90" textLength="52.3" lengthAdjust="spacingAndGlyphs">4,080.000</text>
<text x="1192.1" y="634.90" textLength="52.3" lengthAdjust="spacingAndGlyphs">4,060.000</text>
<text x="1192.1" y="667.90" textLength="52.3" lengthAdjust="spacingAndGlyphs">4,040.000</text>
<text x="1192.1" y="700.90" textLength="52.3" lengthAdjust="spacingAndGlyphs">4,020.000</text>
<text x="1192.1" y="732.90" textLength="52.3" lengthAdjust="spacingAndGlyphs">4,000.000</text>
<text x="1192.1" y="765.90" textLength="52.3" lengthAdjust="spacingAndGlyphs">3,980.000</text>
<path d="M1184 589h64a2 2 0 0 1 2 2v27a2 2 0 0 1-2 2h-64z" fill="#089981"/>
<text class="b" x="1191.8" y="600.8" textLength="52.8" lengthAdjust="spacingAndGlyphs" style="fill:#fff">4,080.777</text>
<text x="1191.8" y="615.0" textLength="29.2" lengthAdjust="spacingAndGlyphs" style="fill:#fff;fill-opacity:.8">23:55</text>
<path d="M1184 741h50a2 2 0 0 1 2 2v13a2 2 0 0 1-2 2h-50z" fill="#26a69a"/>
<text class="b" x="1192.3" y="753.7" textLength="38.5" lengthAdjust="spacingAndGlyphs" style="fill:#fff">50.16 K</text>
</g>
<clipPath id="tc"><rect x="10" y="787" width="1172.5" height="27"/></clipPath>
<g id="taxis" clip-path="url(#tc)" text-anchor="middle">
<text x="87.5" y="805" style="stroke:#151515;stroke-width:.45px">16</text>
<text x="224.5" y="805" style="stroke:#151515;stroke-width:.45px">17</text>
<text x="360.5" y="805" style="stroke:#151515;stroke-width:.45px">18</text>
<text x="497.5" y="805" style="stroke:#151515;stroke-width:.45px">21</text>
<text x="634.5" y="805" style="stroke:#151515;stroke-width:.45px">22</text>
<text x="770.5" y="805" style="stroke:#151515;stroke-width:.45px">23</text>
<text x="907.5" y="805" style="stroke:#151515;stroke-width:.45px">24</text>
<text x="1043.5" y="805" style="stroke:#151515;stroke-width:.45px">25</text>
<text x="1180.5" y="805" style="stroke:#151515;stroke-width:.45px">28</text>
</g>
<g id="header">
<text y="19.1"><tspan class="w" x="11.0" textLength="11.4" lengthAdjust="spacingAndGlyphs">10</tspan><tspan x="22.3">月</tspan><tspan> </tspan><tspan class="w" x="38.6" textLength="15.7" lengthAdjust="spacingAndGlyphs">27,</tspan><tspan> </tspan><tspan class="w" x="58.9" textLength="24.5" lengthAdjust="spacingAndGlyphs">2025</tspan><tspan> </tspan><tspan class="w" x="88.0" textLength="28.8" lengthAdjust="spacingAndGlyphs">14:36</tspan><tspan> </tspan><tspan class="w" x="121.6" textLength="33.8" lengthAdjust="spacingAndGlyphs">UTC+9</tspan><tspan x="155.3">、</tspan><tspan class="w" x="167.8" textLength="58.1" lengthAdjust="spacingAndGlyphs">sarada8311</tspan><tspan x="227.2">が</tspan><tspan class="w" x="239.6" textLength="90.8" lengthAdjust="spacingAndGlyphs">TradingView.com</tspan><tspan x="331.9" textLength="34.4" lengthAdjust="spacingAndGlyphs">で作成</tspan></text>
<text y="46.0"><tspan x="18.0">金</tspan><tspan class="w" x="30.3" textLength="19.8" lengthAdjust="spacingAndGlyphs">CFD</tspan><tspan x="51.6" textLength="106.6" lengthAdjust="spacingAndGlyphs">（米ドル／オンス）</tspan><tspan> </tspan><tspan class="b" x="162.3">·</tspan><tspan> </tspan><tspan class="w" x="170.9">1</tspan><tspan x="178.0" textLength="23.6" lengthAdjust="spacingAndGlyphs">時間</tspan><tspan> </tspan><tspan class="b" x="204.4">·</tspan><tspan> </tspan><tspan class="w" x="213.4" textLength="20.0" lengthAdjust="spacingAndGlyphs">TVC</tspan></text>
<text y="46.0"><tspan x="240.9" textLength="24" lengthAdjust="spacingAndGlyphs">始値</tspan><tspan class="wt" x="265.1" textLength="52.4" lengthAdjust="spacingAndGlyphs" style="fill:#089981">4,068.670</tspan></text>
<text y="46.0"><tspan x="325.3" textLength="24" lengthAdjust="spacingAndGlyphs">高値</tspan><tspan class="wt" x="349.5" textLength="52.4" lengthAdjust="spacingAndGlyphs" style="fill:#089981">4,084.540</tspan></text>
<text y="46.0"><tspan x="409.2" textLength="24" lengthAdjust="spacingAndGlyphs">安値</tspan><tspan class="wt" x="433.4" textLength="52.4" lengthAdjust="spacingAndGlyphs" style="fill:#089981">4,068.455</tspan></text>
<text y="46.0"><tspan x="492.8" textLength="24" lengthAdjust="spacingAndGlyphs">終値</tspan><tspan class="wt" x="517.0" textLength="52.4" lengthAdjust="spacingAndGlyphs" style="fill:#089981">4,080.777</tspan></text>
<text class="wt" x="577.2" y="46.0" textLength="91.3" lengthAdjust="spacingAndGlyphs" style="fill:#089981">+12.060 (+0.30%)</text>
<text y="63.2"><tspan x="18.4" textLength="36" lengthAdjust="spacingAndGlyphs">出来高</tspan><tspan class="wv" x="61.6" textLength="38.3" lengthAdjust="spacingAndGlyphs" style="fill:#26a69a">50.16 K</tspan></text>
</g>
<g id="logo" fill="#131313">
<path d="M12.1 837.4H23.9V851.8H18.1V843.2H12.1Z"/>
<circle cx="28.5" cy="840.1" r="2.75"/>
<path d="M33.6 837.4H41.8L36.5 851.8H28.7Z"/>
<text class="b" x="49.3" y="851.7" textLength="120.4" lengthAdjust="spacingAndGlyphs" style="font-size:20px;fill:#131313">TradingView</text>
</g>
</svg></body></html>
